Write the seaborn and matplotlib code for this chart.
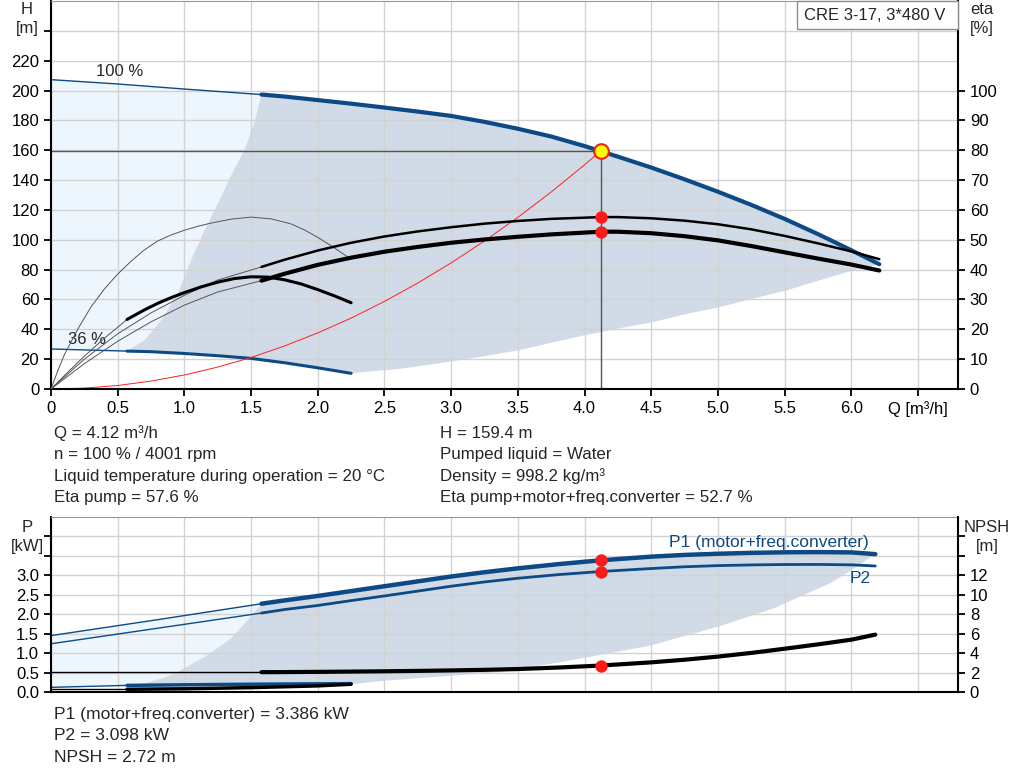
import numpy as np
import pandas as pd
import matplotlib
matplotlib.use("Agg")
import matplotlib.pyplot as plt
import seaborn as sns
from matplotlib.patches import Rectangle

# ---- top chart: head / efficiency vs flow ----
q_h100_thin = [0, 0.5, 1.0, 1.578]
h_h100_thin = [207.3, 204.4, 201.0, 197.3]
q_h100 = [1.578, 1.75, 2.0, 2.25, 2.5, 2.75, 3.0, 3.25, 3.5, 3.75, 4.0,
          4.12, 4.25, 4.5, 4.75, 5.0, 5.25, 5.5, 5.75, 6.0, 6.21]
h_h100 = [197.3, 196.0, 193.6, 191.2, 188.6, 185.9, 183.0, 179.0, 174.4,
          169.2, 162.8, 159.4, 155.7, 148.4, 140.5, 132.2, 123.4, 114.0,
          103.8, 93.0, 83.6]

q_h36_thin = [0, 0.57]
h_h36_thin = [26.8, 25.4]
q_h36 = [0.57, 0.75, 1.0, 1.25, 1.5, 1.75, 2.0, 2.25]
h_h36 = [25.4, 25.0, 23.8, 22.3, 20.5, 17.6, 14.2, 10.5]

q_eta_thin = [0, 0.25, 0.5, 0.75, 1.0, 1.25, 1.578]
eta_pump_thin = [0, 10, 18.5, 25.5, 31.4, 36.5, 40.9]
eta_total_thin = [0, 8.5, 16, 22.5, 28.1, 32.5, 36.3]
q_eta = [1.578, 1.75, 2.0, 2.25, 2.5, 2.75, 3.0, 3.25, 3.5, 3.75, 4.0,
         4.12, 4.25, 4.5, 4.75, 5.0, 5.25, 5.5, 5.75, 6.0, 6.21]
eta_pump = [40.9, 43.3, 46.4, 49.0, 51.1, 52.8, 54.2, 55.4, 56.3, 57.0,
            57.4, 57.6, 57.6, 57.2, 56.4, 55.2, 53.5, 51.3, 48.8, 46.1, 43.5]
eta_total = [36.3, 38.6, 41.6, 44.0, 46.0, 47.6, 49.0, 50.1, 51.0, 51.8,
             52.4, 52.7, 52.7, 52.2, 51.2, 49.8, 47.9, 45.8, 43.7, 41.7, 39.7]

q_eta36_arc = [0, 0.05, 0.1, 0.2, 0.3, 0.4, 0.5, 0.6, 0.7, 0.8, 0.9, 1.0,
               1.1, 1.2, 1.35, 1.5, 1.65, 1.8, 1.9, 2.0, 2.1, 2.24]
eta36_pump = [0, 6, 11.5, 20, 27.5, 33.5, 38.5, 42.8, 46.6, 49.6, 51.6, 53.2,
              54.5, 55.6, 56.9, 57.6, 57.0, 55.3, 53.3, 50.8, 48.0, 43.8]
q_eta36_thin = [0, 0.1, 0.25, 0.4, 0.57]
eta36_total_thin = [0, 4.5, 11, 17, 23.3]
q_eta36 = [0.57, 0.7, 0.8, 0.9, 1.0, 1.125, 1.25, 1.375, 1.5, 1.625, 1.75,
           1.875, 2.0, 2.125, 2.25]
eta36_total = [23.3, 26.5, 28.7, 30.6, 32.3, 34.2, 35.8, 37.0, 37.6, 37.5,
               36.6, 35.2, 33.3, 31.2, 28.9]

q_sys = [0, 0.25, 0.5, 0.75, 1.0, 1.25, 1.5, 1.75, 2.0, 2.25, 2.5, 2.75,
         3.0, 3.25, 3.5, 3.75, 4.0, 4.12]
h_sys = [0, 0.6, 2.35, 5.3, 9.4, 14.7, 21.1, 28.8, 37.6, 47.5, 58.7, 71.0,
         84.5, 99.2, 115.0, 132.0, 150.2, 159.4]

# operating area edges
q_area_left = [0.57, 0.702, 0.826, 0.951, 1.051, 1.151, 1.263, 1.35, 1.453,
               1.52, 1.578]
h_area_left = [25.4, 32.8, 46.1, 64.2, 86.5, 106.5, 126.4, 143.0, 161.0,
               177.0, 197.3]
q_area_low = [6.21, 6.02, 5.75, 5.52, 5.25, 5.02, 4.75, 4.52, 4.25, 4.0,
              3.75, 3.51, 3.25, 3.0, 2.8, 2.614, 2.4, 2.25]
h_area_low = [83.6, 79.6, 72.5, 66.2, 60.3, 55.0, 50.0, 45.0, 40.5, 36.0,
              31.0, 26.0, 22.0, 18.5, 15.8, 13.5, 11.8, 10.5]

q_duty = 4.12
h_duty = 159.4
eta_pump_duty = 57.6
eta_total_duty = 52.7

# ---- bottom chart: power / NPSH vs flow ----
q_p_thin = [0, 0.8, 1.578]
p1_thin = [1.45, 1.86, 2.27]
p2_thin = [1.24, 1.64, 2.03]
q_p = [1.578, 1.75, 2.0, 2.25, 2.5, 2.75, 3.0, 3.25, 3.5, 3.81, 4.12, 4.5,
       4.75, 5.0, 5.25, 5.5, 5.75, 6.0, 6.18]
p1 = [2.27, 2.355, 2.47, 2.595, 2.72, 2.845, 2.97, 3.08, 3.18, 3.29, 3.386,
      3.48, 3.525, 3.555, 3.578, 3.592, 3.597, 3.59, 3.545]
p2 = [2.03, 2.12, 2.225, 2.35, 2.47, 2.595, 2.72, 2.83, 2.925, 3.02, 3.098,
      3.175, 3.22, 3.25, 3.268, 3.278, 3.28, 3.27, 3.24]
npsh = [2.04, 2.05, 2.07, 2.10, 2.13, 2.17, 2.22, 2.28, 2.36, 2.52, 2.72,
        3.05, 3.32, 3.64, 4.02, 4.45, 4.9, 5.38, 5.9]

q_npsh_thin = [0, 1.578]
npsh_thin = [2.04, 2.04]

q_p36_thin = [0, 0.57]
p1_36_thin = [0.12, 0.17]
q_p36 = [0.57, 1.0, 1.5, 2.0, 2.25]
p1_36 = [0.17, 0.185, 0.2, 0.21, 0.215]
npsh36_thin = [0.28, 0.28]
npsh36 = [0.28, 0.33, 0.45, 0.63, 0.8]

q_parea_left = [0.57, 0.7, 0.85, 0.953, 1.178, 1.353, 1.478, 1.578]
p_parea_left = [0.17, 0.22, 0.37, 0.525, 0.957, 1.39, 1.86, 2.27]
q_parea_low = [6.18, 6.01, 5.85, 5.41, 5.01, 4.49, 4.0, 3.81, 3.36, 2.5,
               2.25]
p_parea_low = [3.54, 3.155, 2.81, 2.14, 1.69, 1.19, 0.88, 0.76, 0.51, 0.29,
               0.2]

p1_duty = 3.386
p2_duty = 3.098
npsh_duty = 2.72

BLUE = "#0d4a85"
DARK_AREA = "#d0dbe7"
LIGHT_AREA = "#eef6fd"
GRID = "#d2d2d2"

sns.set_theme(style="white")
plt.rcParams["font.family"] = ["Liberation Sans", "DejaVu Sans"]
FS = 12


def curve(axis, x, y, color, lw):
    sns.lineplot(x=x, y=y, ax=axis, color=color, linewidth=lw,
                 estimator=None, sort=False, legend=False)


def style_axes(a, a2):
    for side in ["left", "bottom"]:
        a.spines[side].set_color("black")
        a.spines[side].set_linewidth(1.5)
    a.spines["top"].set_color("#999999")
    a.spines["top"].set_linewidth(0.8)
    a.spines["right"].set_visible(False)
    for side in ["left", "top", "bottom"]:
        a2.spines[side].set_visible(False)
    a2.spines["right"].set_color("black")
    a2.spines["right"].set_linewidth(1.5)
    a.grid(True, color=GRID, linewidth=1)
    a.set_axisbelow("line")
    a.tick_params(axis="both", direction="out", length=5, width=1.3,
                  labelsize=FS, colors="black", left=True, bottom=True)
    a2.tick_params(axis="y", direction="out", length=5, width=1.3,
                   labelsize=FS, colors="black", right=True)
    a.set_xlabel("")
    a.set_ylabel("")
    a2.set_ylabel("")


fig = plt.figure(figsize=(10.24, 7.81), dpi=100)
W, H = 1024, 781
ax = fig.add_axes([51 / W, 1 - 389 / H, 907 / W, 388 / H])
ax2 = ax.twinx()
bx = fig.add_axes([51 / W, 1 - 692 / H, 907 / W, 175 / H])
bx2 = bx.twinx()

# ---------- top chart ----------
light_q = q_h100_thin + q_area_left[::-1] + q_h36_thin[::-1]
light_h = h_h100_thin + h_area_left[::-1] + h_h36_thin[::-1]
ax.fill(light_q, light_h, color=LIGHT_AREA, lw=0, zorder=1)
dark_q = q_area_left + q_h100[1:] + q_area_low[1:] + q_h36[::-1][1:]
dark_h = h_area_left + h_h100[1:] + h_area_low[1:] + h_h36[::-1][1:]
ax.fill(dark_q, dark_h, color=DARK_AREA, lw=0, zorder=1)

curve(ax, q_h100_thin, h_h100_thin, BLUE, 1.0)
curve(ax, q_h100, h_h100, BLUE, 3.0)
curve(ax, q_h36_thin, h_h36_thin, BLUE, 1.0)
curve(ax, q_h36, h_h36, BLUE, 2.2)
curve(ax, q_sys, h_sys, "#ff2020", 0.7)
ax.plot([0, q_duty], [h_duty, h_duty], color="#555555", lw=1, zorder=2)
ax.plot([q_duty, q_duty], [0, h_duty], color="#555555", lw=1, zorder=2)
ax.scatter([q_duty], [h_duty], s=110, color="#ffff00", edgecolor="#ff1a1a",
           linewidth=1.5, zorder=6)

curve(ax2, q_eta_thin, eta_pump_thin, "#555555", 0.7)
curve(ax2, q_eta_thin, eta_total_thin, "#555555", 0.7)
curve(ax2, q_eta36_arc, eta36_pump, "#555555", 0.7)
curve(ax2, q_eta36_thin, eta36_total_thin, "#555555", 0.7)
curve(ax2, q_eta, eta_pump, "black", 1.8)
curve(ax2, q_eta, eta_total, "black", 3.0)
curve(ax2, q_eta36, eta36_total, "black", 2.2)
ax2.scatter([q_duty, q_duty], [eta_pump_duty, eta_total_duty], s=80,
            color="#ff1a1a", lw=0, zorder=6)

ax.set_xlim(0, 6.8)
ax.set_ylim(0, 260)
ax2.set_ylim(0, 130)
xt = np.arange(0, 6.51, 0.5)
ax.set_xticks(xt)
ax.set_xticklabels(["0"] + [f"{v:.1f}" for v in xt[1:-1]] + ["Q [m\u00b3/h]"])
ax.set_yticks(np.arange(0, 241, 20))
ax.set_yticklabels([str(v) for v in range(0, 221, 20)] + [""])
ax2.set_yticks(np.arange(0, 101, 10))
style_axes(ax, ax2)

ax.text(0.34, 212.5, "100 %", fontsize=FS, va="center")
ax.text(0.13, 33.5, "36 %", fontsize=FS, va="center")

box = Rectangle((746 / 907, 1 - 28 / 388), 161 / 907, 28 / 388,
                transform=ax.transAxes, facecolor="white",
                edgecolor="#8a8a8a", lw=1, zorder=7, clip_on=False)
ax2.add_patch(box)
ax2.text((746 + 78) / 907, 1 - 14 / 388, "CRE 3-17, 3*480 V", fontsize=FS,
         transform=ax.transAxes, ha="center", va="center", zorder=8)

# ---------- bottom chart ----------
plight_q = q_p_thin + q_parea_left[::-1] + q_p36_thin[::-1]
plight_p = p1_thin + p_parea_left[::-1] + p1_36_thin[::-1]
bx.fill(plight_q, plight_p, color=LIGHT_AREA, lw=0, zorder=1)
pdark_q = q_parea_left + q_p[1:] + q_parea_low[1:] + q_p36[::-1][1:]
pdark_p = p_parea_left + p1[1:] + p_parea_low[1:] + p1_36[::-1][1:]
bx.fill(pdark_q, pdark_p, color=DARK_AREA, lw=0, zorder=1)

curve(bx, q_p_thin, p1_thin, BLUE, 1.0)
curve(bx, q_p_thin, p2_thin, BLUE, 1.0)
curve(bx, q_p, p1, BLUE, 3.2)
curve(bx, q_p, p2, BLUE, 2.0)
curve(bx, q_p36_thin, p1_36_thin, BLUE, 1.0)
curve(bx, q_p36, p1_36, BLUE, 2.5)
bx.scatter([q_duty, q_duty], [p1_duty, p2_duty], s=80, color="#ff1a1a",
           lw=0, zorder=6)
bx.text(4.63, 3.85, "P1 (motor+freq.converter)", color=BLUE, fontsize=12.5,
        va="center")
bx.text(5.99, 2.92, "P2", color=BLUE, fontsize=12.5, va="center")

curve(bx2, q_npsh_thin, npsh_thin, "black", 1.0)
curve(bx2, q_p, npsh, "black", 3.0)
curve(bx2, q_p36_thin, npsh36_thin, "black", 1.0)
curve(bx2, q_p36, npsh36, "black", 2.5)
bx2.scatter([q_duty], [npsh_duty], s=80, color="#ff1a1a", lw=0, zorder=6)

bx.set_xlim(0, 6.8)
bx.set_ylim(0, 4.5)
bx2.set_ylim(0, 18)
bx.set_xticks(xt)
bx.set_yticks(np.arange(0, 4.01, 0.5))
bx.set_yticklabels([f"{v:.1f}" for v in np.arange(0, 3.01, 0.5)] + ["", ""])
bx2.set_yticks(np.arange(0, 16.1, 2))
bx2.set_yticklabels([str(v) for v in range(0, 13, 2)] + ["", ""])
style_axes(bx, bx2)
bx.tick_params(axis="x", bottom=False, labelbottom=False)

# ---------- axis titles and text ----------
def ftext(x, y, s, size=FS, **kw):
    fig.text(x / W, 1 - y / H, s, fontsize=size, va="center", **kw)

ftext(27, 9, "H", ha="center")
ftext(27, 29, "[m]", ha="center")
ftext(982, 9, "eta", ha="center")
ftext(982, 29, "[%]", ha="center")
ftext(27, 527, "P", ha="center")
ftext(27, 547, "[kW]", ha="center")
ftext(987, 527, "NPSH", ha="center")
ftext(987, 547, "[m]", ha="center")

left_info = ["Q = 4.12 m\u00b3/h", "n = 100 % / 4001 rpm",
             "Liquid temperature during operation = 20 \u00b0C",
             "Eta pump = 57.6 %"]
right_info = ["H = 159.4 m", "Pumped liquid = Water",
              "Density = 998.2 kg/m\u00b3",
              "Eta pump+motor+freq.converter = 52.7 %"]
for i, s in enumerate(left_info):
    ftext(54, 433 + i * 21.6, s, size=12.2)
for i, s in enumerate(right_info):
    ftext(440, 433 + i * 21.6, s, size=12.2)

power_info = ["P1 (motor+freq.converter) = 3.386 kW", "P2 = 3.098 kW",
              "NPSH = 2.72 m"]
for i, s in enumerate(power_info):
    ftext(54, 714 + i * 21.6, s, size=12.6)

fig.savefig("out.png", dpi=100)
